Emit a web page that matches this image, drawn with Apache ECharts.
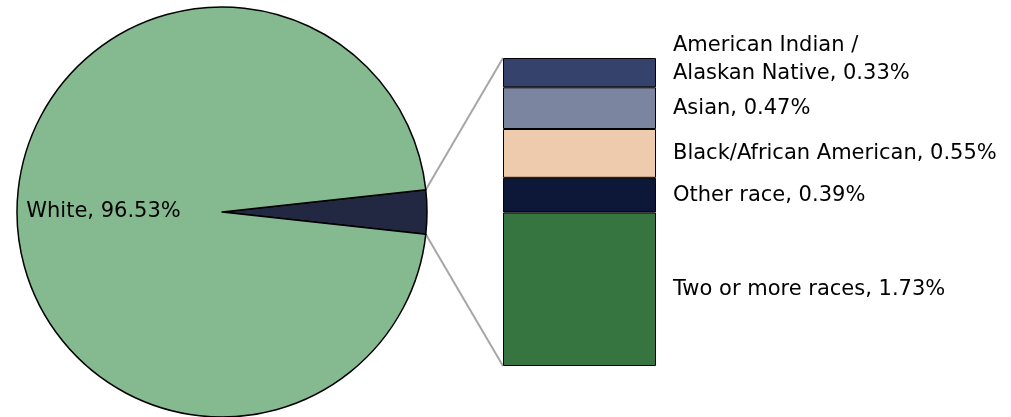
<!DOCTYPE html>
<html>
<head>
<meta charset="utf-8">
<script src="https://cdn.jsdelivr.net/npm/echarts@6/dist/echarts.min.js"></script>
<style>
html,body{margin:0;padding:0;background:#fff;}
#c{width:1011px;height:417px;}
</style>
</head>
<body>
<div id="c"></div>
<script>
var barCategories = ['Two or more races', 'Other race', 'Black/African American', 'Asian', 'American Indian /\nAlaskan Native'];
var barValues = [1.73, 0.39, 0.55, 0.47, 0.33];
var barColors = ['#367540', '#0d1838', '#efcbad', '#7b859f', '#35426b'];
var pieNames = ['Other', 'White'];
var pieValues = [3.47, 96.53];
var pieColors = ['#222842', '#85b98f'];

var FONT = 'DejaVu Sans';
var FS = 21;
var chart = echarts.init(document.getElementById('c'));

var otherTotal = pieValues[0];
var halfAngle = otherTotal / 100 * 360 / 2;
var pieCenter = [222, 212];
var pieRadius = 205;

var series = [{
  type: 'pie',
  center: pieCenter,
  radius: pieRadius,
  startAngle: halfAngle,
  clockwise: true,
  animation: false,
  itemStyle: { borderColor: '#000', borderWidth: 1.5 },
  label: { show: false },
  labelLine: { show: false },
  emphasis: { disabled: true },
  data: pieNames.map(function (n, i) {
    var d = { name: n, value: pieValues[i], itemStyle: { color: pieColors[i] } };
    if (n === 'White') {
      d.label = {
        show: true, position: 'inside', fontFamily: FONT, fontSize: FS, color: '#000',
        offset: [-13, 0],
        formatter: function (p) { return p.name + ', ' + p.value.toFixed(2) + '%'; }
      };
    }
    return d;
  })
}];

barCategories.forEach(function (cat, i) {
  series.push({
    type: 'bar',
    stack: 'all',
    name: cat,
    barWidth: '100%',
    animation: false,
    emphasis: { disabled: true },
    itemStyle: { color: barColors[i], borderColor: '#000', borderWidth: 1 },
    label: {
      show: true, position: 'right', distance: 17, fontFamily: FONT, fontSize: FS,
      color: '#000', lineHeight: 28, align: 'left',
      offset: i === 4 ? [0, -13] : [0, 0],
      formatter: function (p) { return cat + ', ' + p.value.toFixed(2) + '%'; }
    },
    data: [barValues[i]]
  });
});

chart.setOption({
  animation: false,
  grid: { left: 503, top: 58, width: 153, height: 308 },
  xAxis: { type: 'category', data: ['Other'], show: false },
  yAxis: { type: 'value', min: 0, max: otherTotal, show: false },
  series: series
});

function drawConnectors() {
  var rad = halfAngle * Math.PI / 180;
  var p1 = [pieCenter[0] + pieRadius * Math.cos(rad), pieCenter[1] - pieRadius * Math.sin(rad)];
  var p2 = [pieCenter[0] + pieRadius * Math.cos(rad), pieCenter[1] + pieRadius * Math.sin(rad)];
  var topLeft = chart.convertToPixel({ gridIndex: 0 }, ['Other', otherTotal]);
  var botLeft = chart.convertToPixel({ gridIndex: 0 }, ['Other', 0]);
  var gridLeft = 503;
  chart.setOption({
    graphic: [
      { type: 'line', shape: { x1: p1[0], y1: p1[1], x2: gridLeft, y2: topLeft[1] }, style: { stroke: '#a6a6a6', lineWidth: 2 }, z: -1 },
      { type: 'line', shape: { x1: p2[0], y1: p2[1], x2: gridLeft, y2: botLeft[1] }, style: { stroke: '#a6a6a6', lineWidth: 2 }, z: -1 }
    ]
  });
}
drawConnectors();
</script>
</body>
</html>
